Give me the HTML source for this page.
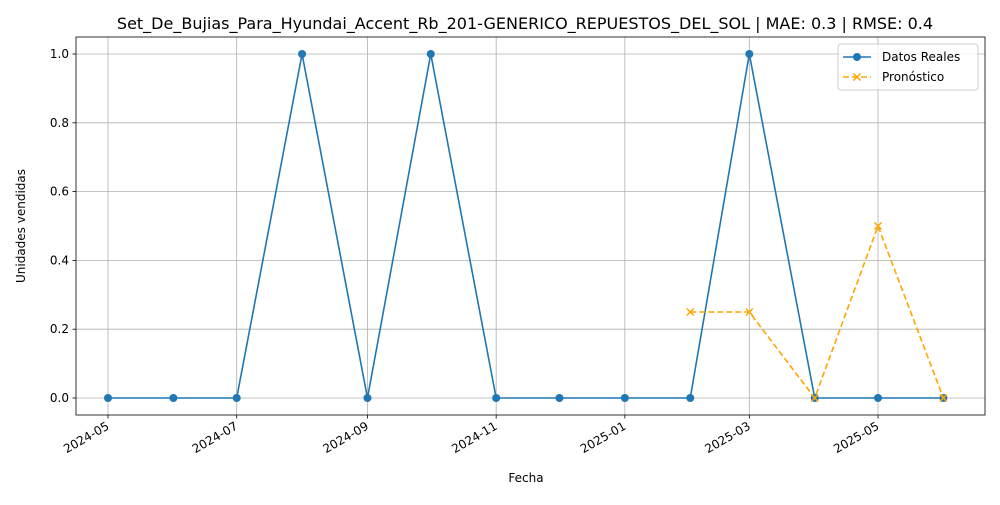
<!DOCTYPE html>
<html><head><meta charset="utf-8"><style>
body{margin:0;background:#fff;font-family:"Liberation Sans","DejaVu Sans",sans-serif;}
svg text{font-family:"DejaVu Sans","Liberation Sans",sans-serif;}
</style></head><body>
<svg id="chart" width="1000" height="500" xmlns="http://www.w3.org/2000/svg"></svg>
<script>
const realDates=["2024-05-01","2024-06-01","2024-07-01","2024-08-01","2024-09-01","2024-10-01","2024-11-01","2024-12-01","2025-01-01","2025-02-01","2025-03-01","2025-04-01","2025-05-01","2025-06-01"];
const realValues=[0,0,0,1,0,1,0,0,0,0,1,0,0,0];
const fcDates=["2025-02-01","2025-03-01","2025-04-01","2025-05-01","2025-06-01"];
const fcValues=[0.25,0.25,0,0.5,0];
const xTicks=["2024-05","2024-07","2024-09","2024-11","2025-01","2025-03","2025-05"];
const yTicks=[0,0.2,0.4,0.6,0.8,1.0];

const svg=document.getElementById('chart');
const NS="http://www.w3.org/2000/svg";
const L=76,R=985,T=37,B=415;
const d0=Date.parse("2024-05-01"),d1=Date.parse("2025-05-01");
function xs(d){return 108+(Date.parse(d.length==7?d+"-01":d)-d0)/(d1-d0)*770;}
function ys(v){return 398-v*344;}
function mk(tag,attrs,parent){const e=document.createElementNS(NS,tag);for(const k in attrs)e.setAttribute(k,attrs[k]);(parent||svg).appendChild(e);return e;}

// grid
xTicks.forEach(t=>{const g=mk('line',{x1:xs(t),x2:xs(t),y1:T,y2:B,stroke:'#b0b0b0','stroke-width':0.8});

});
yTicks.forEach(t=>{const g=mk('line',{x1:L,x2:R,y1:ys(t),y2:ys(t),stroke:'#b0b0b0','stroke-width':0.8});

});

// ticks & labels
xTicks.forEach(t=>{const x=xs(t);mk('line',{x1:x,x2:x,y1:B,y2:B+3.5,stroke:'#000','stroke-width':0.8});
const tx=mk('text',{x:x,y:B+14,'font-size':12,'text-anchor':'end',transform:`rotate(-30 ${x} ${B+10})`});tx.textContent=t;

});
yTicks.forEach(t=>{const y=ys(t);mk('line',{x1:L-3.5,x2:L,y1:y,y2:y,stroke:'#000','stroke-width':0.8});
const tx=mk('text',{x:L-7,y:y+4,'font-size':12,'text-anchor':'end'});tx.textContent=t.toFixed(1);

});

// real series
const rp=mk('polyline',{points:realDates.map((d,i)=>xs(d)+','+ys(realValues[i])).join(' '),fill:'none',stroke:'#1f77b4','stroke-width':1.6});


realDates.forEach((d,i)=>{const c=mk('circle',{cx:xs(d),cy:ys(realValues[i]),r:4,fill:'#1f77b4'});

});

// forecast
const fp=mk('polyline',{points:fcDates.map((d,i)=>xs(d)+','+ys(fcValues[i])).join(' '),fill:'none',stroke:'orange','stroke-width':1.6,'stroke-dasharray':'6,3'});


fcDates.forEach((d,i)=>{const x=xs(d),y=ys(fcValues[i]);
const m=mk('path',{d:`M${x-3.5},${y-3.5}L${x+3.5},${y+3.5}M${x-3.5},${y+3.5}L${x+3.5},${y-3.5}`,stroke:'orange','stroke-width':1.5});

});

// frame
mk('rect',{x:L,y:T,width:R-L,height:B-T,fill:'none',stroke:'#000','stroke-width':0.8});

// titles
let t=mk('text',{x:525,y:29,'font-size':16,'text-anchor':'middle'});t.textContent="Set_De_Bujias_Para_Hyundai_Accent_Rb_201-GENERICO_REPUESTOS_DEL_SOL | MAE: 0.3 | RMSE: 0.4";

t=mk('text',{x:526,y:482,'font-size':12,'text-anchor':'middle'});t.textContent="Fecha";

t=mk('text',{x:25,y:226,'font-size':12,'text-anchor':'middle',transform:'rotate(-90 25 226)'});t.textContent="Unidades vendidas";


// legend
const lg=mk('g',{});

mk('rect',{x:838,y:44,width:140,height:46,rx:3,fill:'#fff','fill-opacity':0.8,stroke:'#ccc'},lg);
mk('line',{x1:843,x2:871,y1:57,y2:57,stroke:'#1f77b4','stroke-width':1.6},lg);
mk('circle',{cx:857,cy:57,r:4,fill:'#1f77b4'},lg);
t=mk('text',{x:882,y:61,'font-size':12},lg);t.textContent="Datos Reales";

mk('line',{x1:843,x2:871,y1:77,y2:77,stroke:'orange','stroke-width':1.6,'stroke-dasharray':'6,3'},lg);
mk('path',{d:'M853.5,73.5L860.5,80.5M853.5,80.5L860.5,73.5',stroke:'orange','stroke-width':1.5},lg);
t=mk('text',{x:882,y:81,'font-size':12},lg);t.textContent="Pronóstico";

</script>
</body></html>
